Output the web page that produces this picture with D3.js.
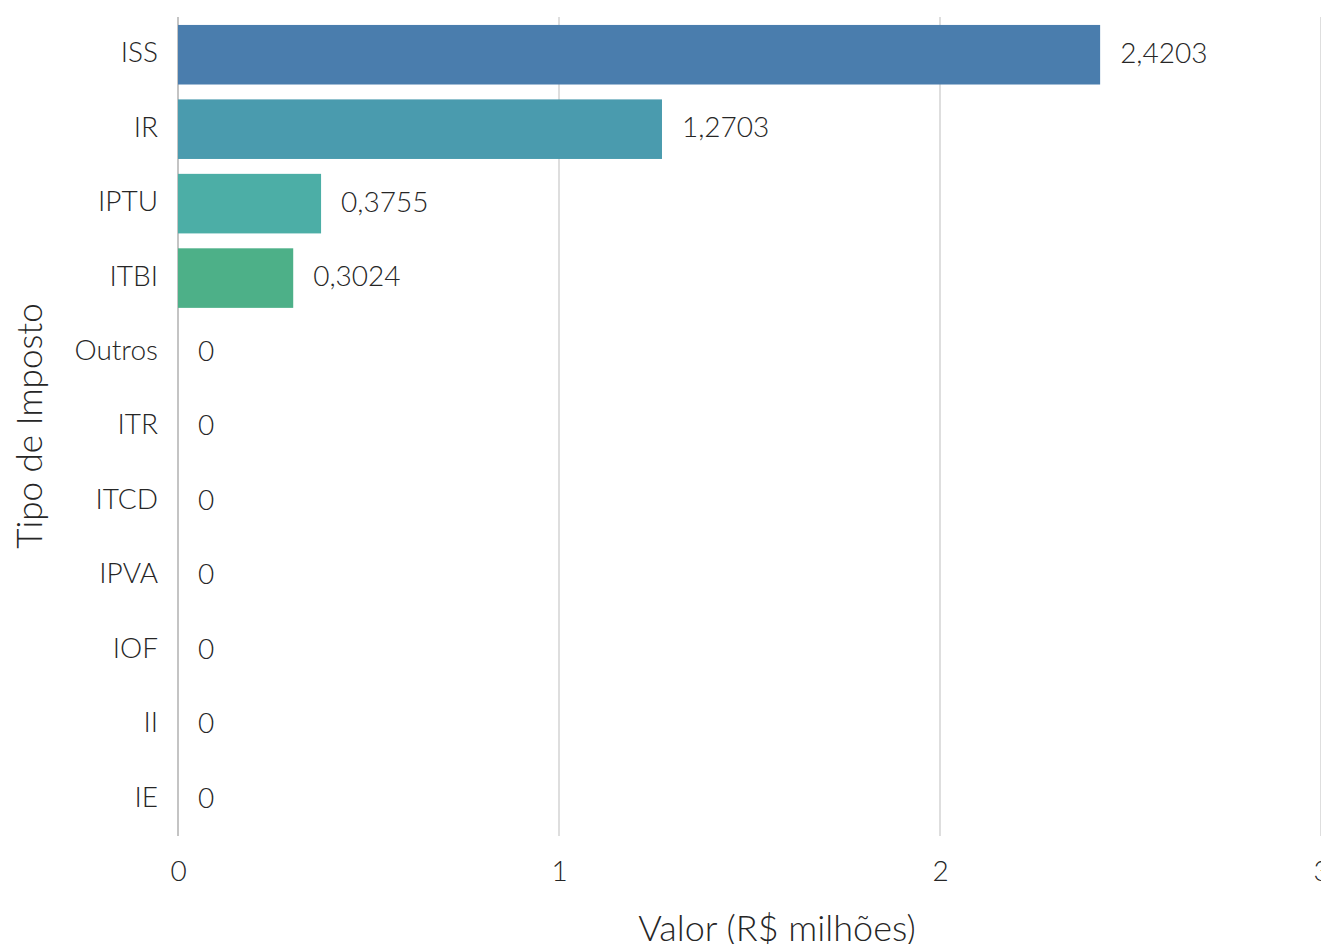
<!DOCTYPE html>
<html><head><meta charset="utf-8">
<script src="https://cdn.jsdelivr.net/npm/d3@7"></script>
<style>
html,body{margin:0;padding:0;background:#fff;}
svg text{font-family:Lato,"Open Sans",sans-serif;font-weight:300;fill:#262626;}
</style></head>
<body>
<svg id="chart" width="1321" height="944"></svg>
<script>
const categories = ["ISS","IR","IPTU","ITBI","Outros","ITR","ITCD","IPVA","IOF","II","IE"];
const values = [2.4203, 1.2703, 0.3755, 0.3024, 0, 0, 0, 0, 0, 0, 0];
const labels = ["2,4203","1,2703","0,3755","0,3024","0","0","0","0","0","0","0"];
const colors = ["#4a7dad","#4a9bae","#4caea6","#4db088","#4fb36a","#56b550","#6db84c","#86bb4a","#a0bd48","#b9bf46","#d2c044"];
const xTicks = [0,1,2,3];

const svg = d3.select("#chart");
const mLeft = 178, mRight = 1321, mTop = 17, mBottom = 836;

const x = d3.scaleLinear().domain([0,3]).range([mLeft,mRight]);
const y = d3.scaleBand().domain(categories).range([mTop,mBottom]).paddingInner(0.2).paddingOuter(0.1);

// gridlines
svg.append("g").selectAll("line").data(xTicks).join("line")
  .attr("x1",d=>x(d)).attr("x2",d=>x(d))
  .attr("y1",mTop).attr("y2",mBottom)
  .attr("stroke",d=>d===0?"#c4c4c4":"#dedede").attr("stroke-width",2);

// bars
svg.append("g").selectAll("rect").data(categories).join("rect")
  .attr("x",x(0))
  .attr("y",d=>y(d)+0.5)
  .attr("width",(d,i)=>x(values[i])-x(0))
  .attr("height",y.bandwidth())
  .attr("fill",(d,i)=>colors[i]);

// value labels
svg.append("g").selectAll("text").data(categories).join("text")
  .attr("x",(d,i)=>x(values[i])+20)
  .attr("y",d=>y(d)+y.bandwidth()/2-1)
  .attr("dy","0.35em")
  .attr("font-size",28)
  .text((d,i)=>labels[i]);

// y axis labels
const yAxis = d3.axisLeft(y).tickSize(0).tickPadding(20);
const gy = svg.append("g").attr("transform",`translate(${mLeft},-1)`).call(yAxis);
gy.select(".domain").remove();
gy.selectAll("text").attr("font-size",28).style("font-family","Lato").style("font-weight",300).attr("fill","#262626");

// x axis labels
const xAxis = d3.axisBottom(x).tickValues(xTicks).tickSize(0).tickPadding(0).tickFormat(d3.format("d"));
const gx = svg.append("g").attr("transform",`translate(0,${mBottom})`).call(xAxis);
gx.select(".domain").remove();
gx.selectAll("text").attr("font-size",28).attr("y",35).attr("dy","0.35em").style("font-family","Lato").style("font-weight",300).attr("fill","#262626");

// axis titles
svg.append("text").attr("x",777).attr("y",928).attr("dy","0.35em").attr("text-anchor","middle")
  .attr("font-size",36).text("Valor (R$ milhões)");
svg.append("text").attr("transform","translate(30,426) rotate(-90)").attr("dy","0.35em").attr("text-anchor","middle")
  .attr("font-size",35).text("Tipo de Imposto");
</script>
</body></html>
